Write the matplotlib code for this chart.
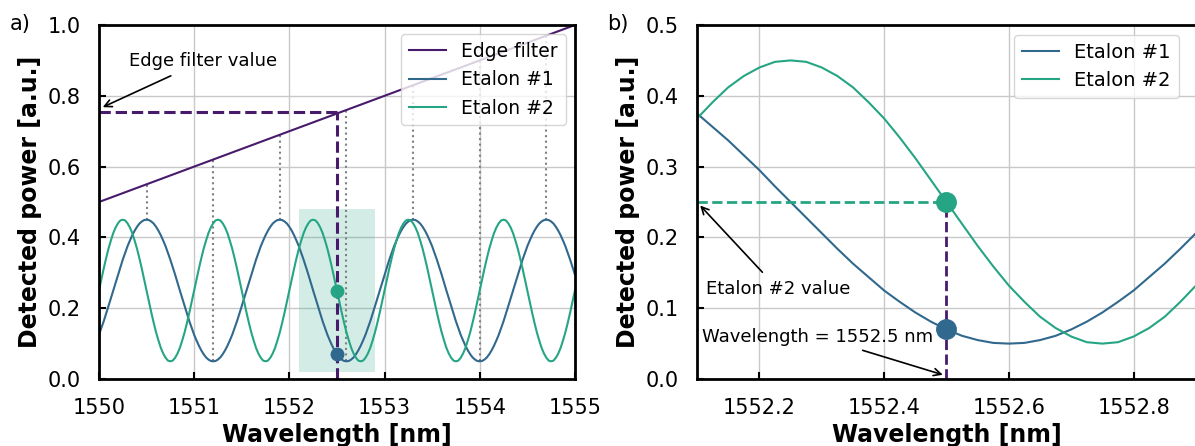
import numpy as np
import matplotlib
matplotlib.use("Agg")
import matplotlib.pyplot as plt
from matplotlib.patches import Rectangle

# sampling grid of the spectra [nm], one point every 0.025 nm
wavelength = np.linspace(1550, 1555, 201)

# detected power at each grid point
etalon1 = [0.125, 0.144, 0.163, 0.184, 0.206, 0.228, 0.25, 0.272, 0.295, 0.316,
           0.337, 0.356, 0.375, 0.391, 0.406, 0.419, 0.43, 0.439, 0.445, 0.449,
           0.45, 0.449, 0.445, 0.439, 0.43, 0.419, 0.406, 0.391, 0.375, 0.356,
           0.337, 0.316, 0.295, 0.272, 0.25, 0.228, 0.206, 0.184, 0.163, 0.144,
           0.125, 0.109, 0.094, 0.081, 0.07, 0.061, 0.055, 0.051, 0.05,
           0.051, 0.055, 0.061, 0.07, 0.081, 0.094, 0.109, 0.125, 0.144, 0.163,
           0.184, 0.206, 0.228, 0.25, 0.272, 0.295, 0.316, 0.337, 0.356, 0.375,
           0.391, 0.406, 0.419, 0.43, 0.439, 0.445, 0.449, 0.45,
           0.449, 0.445, 0.439, 0.43, 0.419, 0.406, 0.391, 0.375, 0.356, 0.337,
           0.316, 0.295, 0.272, 0.25, 0.228, 0.206, 0.184, 0.163, 0.144, 0.125,
           0.109, 0.094, 0.081, 0.07, 0.061, 0.055, 0.051, 0.05,
           0.051, 0.055, 0.061, 0.07, 0.081, 0.094, 0.109, 0.125, 0.144, 0.163,
           0.184, 0.206, 0.228, 0.25, 0.272, 0.295, 0.316, 0.337, 0.356, 0.375,
           0.391, 0.406, 0.419, 0.43, 0.439, 0.445, 0.449, 0.45,
           0.449, 0.445, 0.439, 0.43, 0.419, 0.406, 0.391, 0.375, 0.356, 0.337,
           0.316, 0.295, 0.272, 0.25, 0.228, 0.206, 0.184, 0.163, 0.144, 0.125,
           0.109, 0.094, 0.081, 0.07, 0.061, 0.055, 0.051, 0.05,
           0.051, 0.055, 0.061, 0.07, 0.081, 0.094, 0.109, 0.125, 0.144, 0.163,
           0.184, 0.206, 0.228, 0.25, 0.272, 0.295, 0.316, 0.337, 0.356, 0.375,
           0.391, 0.406, 0.419, 0.43, 0.439, 0.445, 0.449, 0.45,
           0.449, 0.445, 0.439, 0.43, 0.419, 0.406, 0.391, 0.375, 0.356, 0.337,
           0.316, 0.295]
etalon2 = [0.25, 0.281, 0.312, 0.341, 0.368, 0.391, 0.412, 0.428, 0.44, 0.448,
           0.45, 0.448, 0.44, 0.428, 0.412, 0.391, 0.368, 0.341, 0.312, 0.281,
           0.25, 0.219, 0.188, 0.159, 0.132, 0.109, 0.088, 0.072, 0.06, 0.052,
           0.05, 0.052, 0.06, 0.072, 0.088, 0.109, 0.132, 0.159, 0.188, 0.219,
           0.25, 0.281, 0.312, 0.341, 0.368, 0.391, 0.412, 0.428, 0.44, 0.448,
           0.45, 0.448, 0.44, 0.428, 0.412, 0.391, 0.368, 0.341, 0.312, 0.281,
           0.25, 0.219, 0.188, 0.159, 0.132, 0.109, 0.088, 0.072, 0.06, 0.052,
           0.05, 0.052, 0.06, 0.072, 0.088, 0.109, 0.132, 0.159, 0.188, 0.219,
           0.25, 0.281, 0.312, 0.341, 0.368, 0.391, 0.412, 0.428, 0.44, 0.448,
           0.45, 0.448, 0.44, 0.428, 0.412, 0.391, 0.368, 0.341, 0.312, 0.281,
           0.25, 0.219, 0.188, 0.159, 0.132, 0.109, 0.088, 0.072, 0.06, 0.052,
           0.05, 0.052, 0.06, 0.072, 0.088, 0.109, 0.132, 0.159, 0.188, 0.219,
           0.25, 0.281, 0.312, 0.341, 0.368, 0.391, 0.412, 0.428, 0.44, 0.448,
           0.45, 0.448, 0.44, 0.428, 0.412, 0.391, 0.368, 0.341, 0.312, 0.281,
           0.25, 0.219, 0.188, 0.159, 0.132, 0.109, 0.088, 0.072, 0.06, 0.052,
           0.05, 0.052, 0.06, 0.072, 0.088, 0.109, 0.132, 0.159, 0.188, 0.219,
           0.25, 0.281, 0.312, 0.341, 0.368, 0.391, 0.412, 0.428, 0.44, 0.448,
           0.45, 0.448, 0.44, 0.428, 0.412, 0.391, 0.368, 0.341, 0.312, 0.281,
           0.25, 0.219, 0.188, 0.159, 0.132, 0.109, 0.088, 0.072, 0.06, 0.052,
           0.05, 0.052, 0.06, 0.072, 0.088, 0.109, 0.132, 0.159, 0.188, 0.219,
           0.25]

edge_wl = [1550, 1555]
edge_val = [0.5, 1.0]

# dotted guides: etalon #1 extrema up to the edge filter
guide_wl = [1550.5, 1551.2, 1551.9, 1552.6, 1553.3, 1554.0, 1554.7]
guide_low = [0.45, 0.05, 0.45, 0.05, 0.45, 0.05, 0.45]
guide_high = [0.55, 0.62, 0.69, 0.76, 0.83, 0.90, 0.97]

meas_wl = 1552.5
meas_edge = 0.755
meas_e1 = 0.07
meas_e2 = 0.25

c_edge = "#481a6c"
c_e1 = "#31688e"
c_e2 = "#25a584"

plt.rcParams["font.family"] = "DejaVu Sans"

fig = plt.figure(figsize=(11.95, 4.46), dpi=100)
ax1 = fig.add_axes([0.0828, 0.1502, 0.3983, 0.7937])
ax2 = fig.add_axes([0.5833, 0.1502, 0.4175, 0.7937])

for ax in (ax1, ax2):
    ax.grid(True, color="#c8c8c8", lw=1)
    ax.set_axisbelow(True)
    ax.tick_params(direction="in", labelsize=15, length=5, width=1.5)
    ax.tick_params(axis="y", pad=13)
    ax.tick_params(axis="x", pad=14)
    for s in ax.spines.values():
        s.set_linewidth(2)
    ax.set_xlabel("Wavelength [nm]", fontsize=17, fontweight="bold", labelpad=3)
    ax.set_ylabel("Detected power [a.u.]", fontsize=17, fontweight="bold", labelpad=4)

# ---- panel a
ax1.vlines(guide_wl, guide_low, guide_high, colors="gray", linestyles=":", lw=1.5)
ax1.add_patch(Rectangle((1552.1, 0.02), 0.8, 0.46, color=c_e2, alpha=0.2, lw=0))
ax1.plot(edge_wl, edge_val, color=c_edge, lw=1.5, label="Edge filter")
ax1.plot(wavelength, etalon1, color=c_e1, lw=1.5, label="Etalon #1")
ax1.plot(wavelength, etalon2, color=c_e2, lw=1.5, label="Etalon #2")
ax1.plot([1550, meas_wl], [meas_edge, meas_edge], "--", color=c_edge, lw=2.2)
ax1.plot([meas_wl, meas_wl], [0, meas_edge], "--", color=c_edge, lw=2.2)
ax1.plot(meas_wl, meas_e1, "o", color=c_e1, ms=9)
ax1.plot(meas_wl, meas_e2, "o", color=c_e2, ms=9)
ax1.annotate("Edge filter value", xy=(1550.04, 0.768), xytext=(1551.09, 0.898),
             fontsize=13, ha="center", va="center",
             arrowprops=dict(arrowstyle="->", color="black", lw=1.2,
                             shrinkA=5, shrinkB=0))
ax1.set_xlim(1550, 1555)
ax1.set_ylim(0, 1)
ax1.set_xticks([1550, 1551, 1552, 1553, 1554, 1555])
ax1.set_yticks([0, 0.2, 0.4, 0.6, 0.8, 1.0])
ax1.legend(loc="upper right", fontsize=13.5, framealpha=0.8, handlelength=2.0,
           borderaxespad=0.5)

# ---- panel b
ax2.plot(wavelength, etalon1, color=c_e1, lw=1.5, label="Etalon #1")
ax2.plot(wavelength, etalon2, color=c_e2, lw=1.5, label="Etalon #2")
ax2.plot([1552.1, meas_wl], [meas_e2, meas_e2], "--", color=c_e2, lw=2)
ax2.plot([meas_wl, meas_wl], [0, meas_e2], "--", color=c_edge, lw=2)
ax2.plot(meas_wl, meas_e1, "o", color=c_e1, ms=14, zorder=5)
ax2.plot(meas_wl, meas_e2, "o", color=c_e2, ms=14, zorder=5)
ax2.annotate("Etalon #2 value", xy=(1552.105, 0.245), xytext=(1552.23, 0.127),
             fontsize=13, ha="center", va="center",
             arrowprops=dict(arrowstyle="->", color="black", lw=1.2,
                             shrinkA=5, shrinkB=0))
ax2.annotate("Wavelength = 1552.5 nm", xy=(1552.494, 0.006), xytext=(1552.293, 0.06),
             fontsize=13, ha="center", va="center",
             arrowprops=dict(arrowstyle="->", color="black", lw=1.2,
                             shrinkA=5, shrinkB=0))
ax2.set_xlim(1552.1, 1552.9)
ax2.set_ylim(0, 0.5)
ax2.set_xticks([1552.2, 1552.4, 1552.6, 1552.8])
ax2.set_yticks([0, 0.1, 0.2, 0.3, 0.4, 0.5])
ax2.ticklabel_format(axis="x", useOffset=False)
ax2.legend(loc="upper right", fontsize=14, framealpha=0.8, handlelength=1.9,
           borderaxespad=0.5, bbox_to_anchor=(0.985, 1.0))

fig.text(10 / 1195, 1 - 34 / 446, "a)", fontsize=15, va="bottom")
fig.text(607 / 1195, 1 - 34 / 446, "b)", fontsize=15, va="bottom")

fig.savefig("out.png", dpi=100)
